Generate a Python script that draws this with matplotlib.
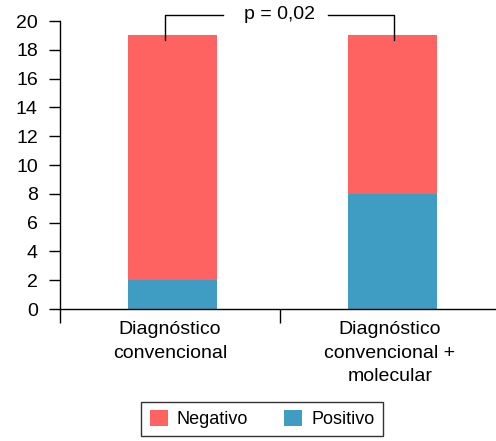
import numpy as np
import matplotlib.pyplot as plt

plt.rcParams['font.family'] = ['Liberation Sans', 'DejaVu Sans']

categories = ["Diagnóstico\nconvencional", "Diagnóstico\nconvencional +\nmolecular"]
positivo = [2, 8]
negativo = [17, 11]
p_label = "p = 0,02"

red = '#FF6361'
blue = '#3F9DC4'

fig = plt.figure(figsize=(4.96, 4.41), dpi=100)
ax = fig.add_axes([60 / 496, 1 - 309 / 441, 436 / 496, 288 / 441])

x = np.arange(len(categories))
ax.bar(x + 0.01, positivo, width=0.405, color=blue, label='Positivo')
ax.bar(x + 0.01, negativo, width=0.405, bottom=positivo, color=red, label='Negativo')

ax.set_xlim(-0.5, -0.5 + 436 / 220)
ax.set_ylim(0, 20)
ax.set_yticks(np.arange(0, 21, 2))
ax.tick_params(axis='y', labelsize=14, length=8, width=1, pad=8)

ax.spines['top'].set_visible(False)
ax.spines['right'].set_visible(False)
ax.spines['left'].set_linewidth(1)
ax.spines['bottom'].set_linewidth(1)
ax.spines['left'].set_bounds(0, 20)

# category separator ticks below the axis
ax.set_xticks([-0.5, 0.5])
ax.set_xticklabels([])
ax.tick_params(axis='x', length=10, width=1, direction='out')
for xi, lab in zip(x, categories):
    ax.text(xi, -0.85, lab, ha='center', va='top', fontsize=14,
            linespacing=1.5)

# significance bracket
yb = 20.42
x0, x1 = -0.025, 1.02
ax.plot([x0, x0, 0.24], [18.7, yb, yb], color='black', lw=1, clip_on=False)
ax.plot([0.72, x1, x1], [yb, yb, 18.7], color='black', lw=1, clip_on=False)
ax.text(0.5, yb, p_label, ha='center', va='center', fontsize=14)

handles, labels = ax.get_legend_handles_labels()
leg = fig.legend(handles[::-1], labels[::-1], loc='lower center',
                 bbox_to_anchor=(262 / 496, -0.01), ncol=2, fontsize=13,
                 frameon=True, fancybox=False, edgecolor='black',
                 handlelength=1.0, handleheight=1.0, columnspacing=2.0,
                 handletextpad=0.5, borderpad=0.45)
leg.get_frame().set_linewidth(1)

fig.savefig('out.png', dpi=100)
